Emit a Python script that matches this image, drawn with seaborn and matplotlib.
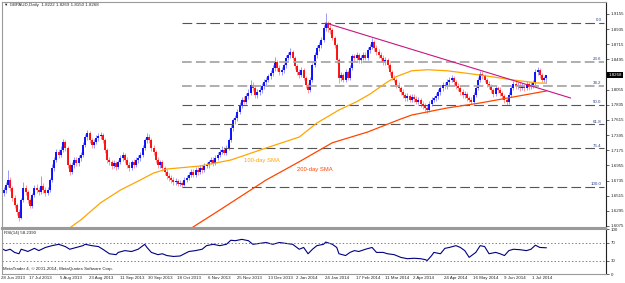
import matplotlib.pyplot as plt
import numpy as np
import seaborn as sns
from matplotlib import transforms

sns.set_style("white")
plt.rcParams["font.family"] = ["Liberation Sans", "DejaVu Sans"]
plt.rcParams["lines.scale_dashes"] = False

# GBPAUD daily bars (open = previous close)
first_open = 1.655
closes = [
    1.660, 1.667, 1.674, 1.663, 1.648, 1.638, 1.628, 1.619, 1.645, 1.663,
    1.657, 1.645, 1.637, 1.652, 1.663, 1.660, 1.657, 1.666, 1.660, 1.655,
    1.660, 1.674, 1.692, 1.703, 1.715, 1.711, 1.718, 1.730, 1.721, 1.696,
    1.686, 1.696, 1.703, 1.699, 1.706, 1.711, 1.725, 1.737, 1.743, 1.732,
    1.725, 1.730, 1.735, 1.738, 1.740, 1.732, 1.718, 1.703, 1.700, 1.695,
    1.699, 1.693, 1.700, 1.706, 1.711, 1.703, 1.696, 1.692, 1.700, 1.696,
    1.703, 1.706, 1.711, 1.721, 1.732, 1.737, 1.732, 1.721, 1.715, 1.703,
    1.696, 1.700, 1.692, 1.686, 1.680, 1.677, 1.674, 1.671, 1.673, 1.668,
    1.670, 1.667, 1.674, 1.677, 1.682, 1.686, 1.682, 1.689, 1.686, 1.692,
    1.689, 1.695, 1.696, 1.700, 1.703, 1.699, 1.706, 1.711, 1.715, 1.718,
    1.714, 1.721, 1.732, 1.750, 1.761, 1.764, 1.773, 1.783, 1.791, 1.788,
    1.796, 1.801, 1.812, 1.808, 1.798, 1.802, 1.805, 1.811, 1.817, 1.820,
    1.825, 1.830, 1.837, 1.846, 1.837, 1.831, 1.834, 1.841, 1.852, 1.856,
    1.860, 1.852, 1.840, 1.831, 1.827, 1.834, 1.823, 1.812, 1.805, 1.820,
    1.841, 1.856, 1.866, 1.870, 1.878, 1.895, 1.901, 1.895, 1.892, 1.881,
    1.870, 1.849, 1.823, 1.827, 1.820, 1.831, 1.823, 1.837, 1.854, 1.852,
    1.856, 1.849, 1.852, 1.856, 1.852, 1.863, 1.868, 1.875, 1.866, 1.860,
    1.856, 1.852, 1.846, 1.849, 1.841, 1.831, 1.823, 1.820, 1.812, 1.808,
    1.802, 1.798, 1.793, 1.796, 1.791, 1.795, 1.792, 1.788, 1.791, 1.785,
    1.782, 1.779, 1.776, 1.785, 1.791, 1.793, 1.796, 1.802, 1.808, 1.812,
    1.811, 1.817, 1.820, 1.823, 1.817, 1.811, 1.808, 1.802, 1.798, 1.799,
    1.793, 1.791, 1.788, 1.798, 1.808, 1.820, 1.828, 1.825, 1.820, 1.814,
    1.811, 1.805, 1.799, 1.808, 1.805, 1.801, 1.796, 1.791, 1.788, 1.798,
    1.808, 1.814, 1.811, 1.812, 1.808, 1.811, 1.808, 1.814, 1.809, 1.812,
    1.815, 1.831, 1.834, 1.827, 1.820, 1.8222, 1.8268,
]
highs = [
    1.664, 1.671, 1.689, 1.678, 1.666, 1.652, 1.641, 1.632, 1.648, 1.671,
    1.667, 1.660, 1.648, 1.655, 1.667, 1.668, 1.664, 1.680, 1.670, 1.664,
    1.664, 1.677, 1.697, 1.707, 1.719, 1.720, 1.723, 1.734, 1.733, 1.724,
    1.699, 1.700, 1.708, 1.707, 1.710, 1.715, 1.729, 1.741, 1.747, 1.746,
    1.736, 1.734, 1.739, 1.742, 1.744, 1.743, 1.735, 1.721, 1.707, 1.704,
    1.703, 1.702, 1.704, 1.710, 1.715, 1.714, 1.707, 1.700, 1.704, 1.705,
    1.707, 1.710, 1.715, 1.725, 1.736, 1.742, 1.741, 1.735, 1.725, 1.718,
    1.707, 1.704, 1.703, 1.695, 1.690, 1.684, 1.681, 1.678, 1.677, 1.676,
    1.674, 1.673, 1.678, 1.681, 1.686, 1.690, 1.690, 1.693, 1.693, 1.696,
    1.696, 1.699, 1.700, 1.704, 1.707, 1.707, 1.710, 1.715, 1.719, 1.723,
    1.722, 1.725, 1.736, 1.754, 1.765, 1.769, 1.777, 1.787, 1.795, 1.796,
    1.800, 1.806, 1.819, 1.816, 1.811, 1.806, 1.809, 1.815, 1.821, 1.824,
    1.829, 1.834, 1.841, 1.853, 1.849, 1.841, 1.838, 1.845, 1.856, 1.860,
    1.866, 1.863, 1.855, 1.843, 1.835, 1.838, 1.837, 1.826, 1.815, 1.824,
    1.845, 1.860, 1.870, 1.875, 1.882, 1.899, 1.917, 1.906, 1.899, 1.895,
    1.884, 1.873, 1.852, 1.831, 1.830, 1.835, 1.834, 1.841, 1.858, 1.858,
    1.860, 1.859, 1.856, 1.860, 1.860, 1.867, 1.872, 1.880, 1.878, 1.870,
    1.864, 1.860, 1.856, 1.853, 1.852, 1.844, 1.834, 1.827, 1.823, 1.816,
    1.811, 1.806, 1.801, 1.800, 1.799, 1.799, 1.799, 1.796, 1.795, 1.794,
    1.789, 1.786, 1.783, 1.789, 1.795, 1.797, 1.800, 1.806, 1.812, 1.816,
    1.816, 1.821, 1.824, 1.827, 1.826, 1.820, 1.815, 1.811, 1.806, 1.803,
    1.802, 1.797, 1.795, 1.802, 1.812, 1.824, 1.832, 1.832, 1.829, 1.823,
    1.818, 1.814, 1.808, 1.812, 1.811, 1.809, 1.804, 1.799, 1.794, 1.802,
    1.812, 1.818, 1.818, 1.816, 1.816, 1.815, 1.814, 1.818, 1.817, 1.816,
    1.819, 1.835, 1.838, 1.837, 1.830, 1.826, 1.8269,
]
lows = [
    1.651, 1.656, 1.664, 1.659, 1.644, 1.633, 1.624, 1.615, 1.617, 1.642,
    1.652, 1.641, 1.634, 1.634, 1.649, 1.655, 1.652, 1.654, 1.656, 1.651,
    1.652, 1.657, 1.671, 1.688, 1.700, 1.706, 1.707, 1.715, 1.717, 1.692,
    1.682, 1.683, 1.692, 1.694, 1.695, 1.702, 1.708, 1.722, 1.733, 1.728,
    1.721, 1.721, 1.726, 1.731, 1.734, 1.728, 1.714, 1.699, 1.696, 1.690,
    1.691, 1.689, 1.690, 1.697, 1.702, 1.699, 1.692, 1.688, 1.689, 1.692,
    1.693, 1.699, 1.702, 1.708, 1.718, 1.728, 1.728, 1.717, 1.711, 1.699,
    1.692, 1.692, 1.688, 1.682, 1.676, 1.673, 1.670, 1.667, 1.667, 1.665,
    1.665, 1.664, 1.665, 1.671, 1.674, 1.679, 1.678, 1.679, 1.682, 1.683,
    1.685, 1.686, 1.691, 1.692, 1.697, 1.695, 1.696, 1.703, 1.707, 1.712,
    1.710, 1.711, 1.718, 1.729, 1.746, 1.756, 1.760, 1.770, 1.779, 1.784,
    1.785, 1.792, 1.798, 1.803, 1.794, 1.794, 1.798, 1.801, 1.807, 1.813,
    1.816, 1.821, 1.826, 1.833, 1.833, 1.827, 1.827, 1.830, 1.837, 1.848,
    1.852, 1.848, 1.836, 1.827, 1.823, 1.824, 1.819, 1.808, 1.800, 1.802,
    1.817, 1.838, 1.852, 1.862, 1.866, 1.875, 1.891, 1.890, 1.887, 1.877,
    1.866, 1.845, 1.815, 1.818, 1.816, 1.817, 1.819, 1.820, 1.834, 1.847,
    1.848, 1.845, 1.845, 1.848, 1.848, 1.849, 1.859, 1.864, 1.862, 1.856,
    1.852, 1.848, 1.842, 1.842, 1.837, 1.827, 1.819, 1.816, 1.808, 1.804,
    1.798, 1.794, 1.789, 1.789, 1.787, 1.787, 1.788, 1.784, 1.784, 1.781,
    1.778, 1.775, 1.772, 1.773, 1.782, 1.787, 1.789, 1.792, 1.798, 1.804,
    1.807, 1.807, 1.813, 1.816, 1.813, 1.807, 1.804, 1.798, 1.794, 1.794,
    1.789, 1.787, 1.785, 1.785, 1.795, 1.805, 1.817, 1.821, 1.816, 1.810,
    1.807, 1.801, 1.795, 1.796, 1.801, 1.797, 1.792, 1.786, 1.783, 1.785,
    1.795, 1.805, 1.807, 1.807, 1.804, 1.805, 1.804, 1.805, 1.805, 1.806,
    1.808, 1.812, 1.827, 1.823, 1.816, 1.816, 1.8150,
]

# moving averages (bar index, value)
sma100_bar = [28, 35, 44, 53, 62, 68, 74, 89, 103, 119, 134, 142, 152, 160,
              166, 170, 174, 178, 185, 192, 201, 216, 231, 242, 246]
sma100_val = [1.600, 1.6162, 1.6412, 1.6597, 1.6743, 1.6844, 1.6902, 1.6946,
              1.7033, 1.7208, 1.7367, 1.7571, 1.7760, 1.7880, 1.7990, 1.8080,
              1.8168, 1.8245, 1.8330, 1.8345, 1.8330, 1.8268, 1.8196, 1.8152,
              1.8150]
sma200_bar = [83, 98, 119, 134, 149, 165, 180, 185, 201, 216, 231, 246]
sma200_val = [1.600, 1.6307, 1.6743, 1.7008, 1.7284, 1.7440, 1.7629, 1.7687,
              1.7789, 1.7862, 1.7949, 1.8036]

# falling trendline and fibonacci retracement
trend_bar = [146, 257]
trend_val = [1.9024, 1.7934]
fib_low, fib_high = 1.6641, 1.9024
fib_levels = [0.0, 23.6, 38.2, 50.0, 61.8, 76.4, 100.0]
fib_start, fib_end = 81, 272

# RSI(14)
rsi_bar = [-2, -1, 1, 3, 5, 7, 8, 10, 11, 14, 16, 19, 22, 25, 28, 30, 33, 36,
           37, 40, 43, 45, 48, 51, 52, 55, 58, 61, 64, 65, 67, 70, 72, 74, 77,
           80, 82, 84, 87, 90, 92, 95, 98, 101, 103, 105, 108, 111, 113, 116,
           119, 122, 125, 128, 131, 134, 136, 138, 140, 142, 143, 145, 146,
           149, 151, 152, 155, 157, 159, 161, 164, 167, 169, 172, 174, 177,
           180, 183, 186, 189, 191, 192, 194, 195, 198, 200, 202, 205, 207,
           209, 211, 214, 216, 218, 220, 223, 225, 227, 229, 231, 234, 237,
           239, 241, 243, 246]
rsi_val = [63, 57, 52, 55, 48, 45, 55, 52, 50, 57, 52, 59, 63, 66, 61, 55, 59,
           63, 66, 63, 61, 55, 45, 43, 48, 52, 50, 55, 66, 59, 48, 43, 45, 41,
           39, 40, 45, 50, 52, 55, 63, 66, 63, 66, 75, 74, 77, 74, 66, 68, 70,
           66, 70, 68, 66, 55, 59, 45, 55, 63, 64, 66, 71, 66, 59, 45, 41, 48,
           52, 50, 55, 59, 48, 48, 45, 43, 37, 34, 35, 34, 32, 30, 41, 48, 45,
           57, 59, 63, 59, 52, 37, 48, 63, 61, 45, 48, 45, 41, 52, 55, 54, 52,
           55, 64, 59, 58.24]

price_ticks = [1.9155, 1.8935, 1.8715, 1.8495, 1.8055, 1.7835, 1.7615,
               1.7395, 1.7175, 1.6955, 1.6735, 1.6515, 1.6295, 1.6075]
last_price = 1.8268
date_ticks = [0, 13, 27, 40, 54, 67, 80, 94, 107, 121, 134, 147, 161, 174,
              187, 201, 214, 228, 241]
date_labels = ["28 Jun 2013", "17 Jul 2013", "5 Aug 2013", "23 Aug 2013",
               "11 Sep 2013", "30 Sep 2013", "18 Oct 2013", "6 Nov 2013",
               "25 Nov 2013", "13 Dec 2013", "2 Jan 2014", "24 Jan 2014",
               "17 Feb 2014", "11 Mar 2014", "2 Apr 2014", "24 Apr 2014",
               "16 May 2014", "9 Jun 2014", "1 Jul 2014"]

fs = 3.2
fig = plt.figure(figsize=(6.25, 2.83), dpi=100)
ax = fig.add_axes([0.0032, 0.1943, 0.9664, 0.7986])
ax_rsi = fig.add_axes([0.0032, 0.0318, 0.9664, 0.159])

# candles
c = np.array(closes)
o = np.r_[first_open, c[:-1]]
idx = np.arange(len(c))
col = np.where(c >= o, "#0000ff", "#ff0000")
ax.vlines(idx, lows, highs, colors=col, lw=0.7, alpha=0.4)
ax.vlines(idx, np.minimum(o, c), np.maximum(o, c), colors=col, lw=1.3)

# fibonacci levels
for lvl in fib_levels:
    p = fib_high - (fib_high - fib_low) * lvl / 100
    light = lvl in (23.6, 38.2)
    ax.hlines(p, fib_start, fib_end, colors="#a8a8a8" if light else "#555555",
              lw=1.3 if light else 0.8, linestyles=(0, (7, 3)))
    ax.text(fib_end - 1, p + 0.0008, f"{lvl:.1f}", ha="right", va="bottom",
            fontsize=fs, color="#2b3f8c")

sns.lineplot(x=sma100_bar, y=sma100_val, ax=ax, color="#ffa500", lw=0.9)
sns.lineplot(x=sma200_bar, y=sma200_val, ax=ax, color="#ff4500", lw=0.9)
sns.lineplot(x=trend_bar, y=trend_val, ax=ax, color="#c8157f", lw=0.8)
ax.text(109, 1.7033, "100-day SMA", color="#ffa500", fontsize=4.2, va="center")
ax.text(133, 1.6888, "200-day SMA", color="#ff4500", fontsize=4.2, va="center")

ax.set_xlim(-0.68, 273)
ax.set_ylim(1.6045, 1.9329)
ax.set_xticks([])
ax.yaxis.tick_right()
ax.set_yticks(price_ticks)
ax.set_yticklabels([f"{v:.4f}" for v in price_ticks])
ax.tick_params(axis="y", labelsize=fs, length=2, width=0.5, pad=1.5)
ax.set_xlabel("")
ax.set_ylabel("")
ax.text(1.004, last_price, f"{last_price:.4f}", transform=ax.get_yaxis_transform(),
        fontsize=fs, color="white", va="center", ha="left",
        bbox=dict(boxstyle="square,pad=0.25", fc="black", ec="none"))

# RSI panel
sns.lineplot(x=rsi_bar, y=rsi_val, ax=ax_rsi, color="#000080", lw=0.8)
for lv in (70, 30):
    ax_rsi.axhline(lv, color="#3a9a9a", lw=0.7, ls=(0, (1, 1.5)))
ax_rsi.set_xlim(-0.68, 273)
ax_rsi.set_ylim(0, 100)
ax_rsi.yaxis.tick_right()
ax_rsi.set_yticks([0, 30, 70, 100])
ax_rsi.set_yticklabels(["0", "30", "70", "100"])
ax_rsi.tick_params(axis="y", labelsize=fs, length=2, width=0.5, pad=1.5)
ax_rsi.set_xticks(date_ticks)
ax_rsi.set_xticklabels([])
ax_rsi.tick_params(axis="x", length=2, width=0.5)
ax_rsi.set_xlabel("")
ax_rsi.set_ylabel("")
shift = transforms.ScaledTranslation(-3 / 100, 0, fig.dpi_scale_trans)
trans = transforms.blended_transform_factory(ax_rsi.transData, ax_rsi.transAxes) + shift
for t, lbl in zip(date_ticks, date_labels):
    ax_rsi.text(t, -0.05, lbl, transform=trans, ha="left", va="top", fontsize=fs)

for a in (ax, ax_rsi):
    for s in ("left", "top", "bottom"):
        a.spines[s].set_color("#9a9a9a")
        a.spines[s].set_linewidth(0.8)
    a.spines["right"].set_color("#202020")
    a.spines["right"].set_linewidth(0.8)
ax.spines["bottom"].set_linewidth(1.5)
ax_rsi.spines["top"].set_linewidth(1.5)

fig.text(4 / 625, 1 - 5 / 283, "\u25bc GBPAUD,Daily  1.8222 1.8269 1.8150 1.8268",
         fontsize=fs, va="center")
fig.text(4 / 625, 1 - 233 / 283, "RSI(14) 58.2390", fontsize=fs, va="center")
fig.text(3 / 625, 1 - 269 / 283,
         "MetaTrader 4, \u00a9 2001-2014, MetaQuotes Software Corp.",
         fontsize=fs, va="center")

fig.savefig("out.png", dpi=100)
